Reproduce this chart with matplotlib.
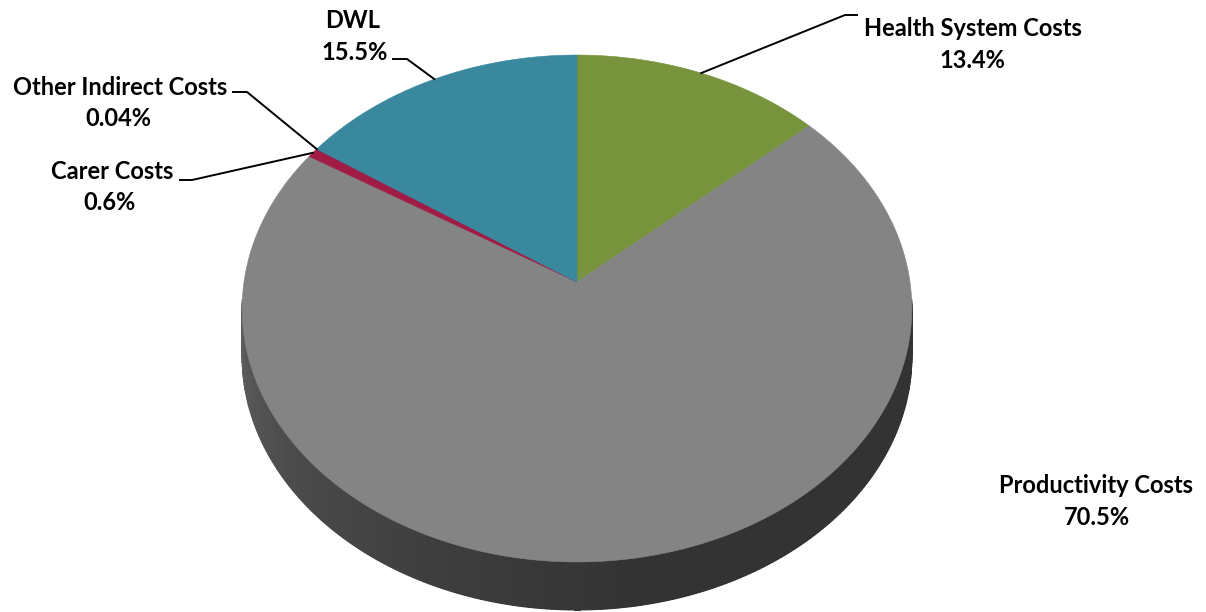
import numpy as np
import matplotlib.pyplot as plt
from matplotlib.patches import Polygon

labels = ['Health System Costs', 'Productivity Costs', 'Carer Costs',
          'Other Indirect Costs', 'DWL']
shares = [13.4, 70.5, 0.6, 0.04, 15.5]
colors = ['#77933C', '#848484', '#A01C44', '#604A7B', '#3A889D']

# label layout (pixel coords): name baseline, percent baseline, leader start/elbow
label_xy = {
    'Health System Costs': ((973, 36), (972, 68), [(857, 15), (845, 15)]),
    'Productivity Costs': ((1096, 493), (1097, 525), None),
    'Carer Costs': ((112, 179), (110, 210), [(180, 180), (192, 180)]),
    'Other Indirect Costs': ((120, 95), (118, 126), [(233, 92), (247, 92)]),
    'DWL': ((353, 28), (355, 60), [(393, 59), (407, 59)]),
}

# pie geometry in pixels, with a bit of perspective
cx, cy = 577, 282
A, B, k = 333.0, 250.7, 0.1045
depth = 48


def proj(t):
    u, v = np.cos(t), np.sin(t)
    return cx + A * u / (1 + k * v), cy - B * v / (1 + k * v)


fig = plt.figure(figsize=(12.06, 6.12), dpi=100)
ax = fig.add_axes([0, 0, 1, 1])
ax.set_xlim(0, 1206)
ax.set_ylim(612, 0)
ax.axis('off')

# side of the cylinder: dark base, then shaded strips
t_side = np.linspace(np.radians(184), np.radians(356), 200)
sx, sy = proj(t_side)
base = list(zip(sx, sy)) + list(zip(sx[::-1], sy[::-1] + depth))
ax.add_patch(Polygon(base, closed=True, color='#333333', lw=0))
for t1, t2 in zip(t_side[:-1], t_side[1:]):
    x1, y1 = proj(t1)
    x2, y2 = proj(t2)
    tm = np.degrees((t1 + t2) / 2)
    g = np.interp(tm, [184, 215, 250, 280, 356], [0.38, 0.30, 0.24, 0.20, 0.20])
    ax.add_patch(Polygon([(x1, y1), (x2, y2), (x2, y2 + depth), (x1, y1 + depth)],
                         closed=True, color=(g, g, g), lw=0.8))

# top face, clockwise from 12 o'clock
fracs = np.array(shares) / sum(shares)
edges = np.radians(90 - 360 * np.concatenate([[0], np.cumsum(fracs)]))
mids = {}
for i, lab in enumerate(labels):
    t = np.linspace(edges[i], edges[i + 1], max(3, int(abs(edges[i + 1] - edges[i]) * 120)))
    xs, ys = proj(t)
    pts = [(cx, cy)] + list(zip(xs, ys))
    ax.add_patch(Polygon(pts, closed=True, facecolor=colors[i], edgecolor=colors[i], lw=0.4))
    mids[lab] = proj((edges[i] + edges[i + 1]) / 2)

for i, lab in enumerate(labels):
    (nx, ny), (px, py), leader = label_xy[lab]
    kw = dict(ha='center', va='baseline', fontsize=17, fontweight='bold',
              family=['Lato', 'DejaVu Sans'], color='black')
    ax.text(nx, ny, lab, **kw)
    ax.text(px, py, f'{shares[i]:g}%', **kw)
    if leader:
        ex, ey = mids[lab]
        xs = [leader[0][0], leader[1][0], ex]
        ys = [leader[0][1], leader[1][1], ey]
        ax.plot(xs, ys, color='black', lw=1.4)

fig.savefig('out.png', dpi=100)
